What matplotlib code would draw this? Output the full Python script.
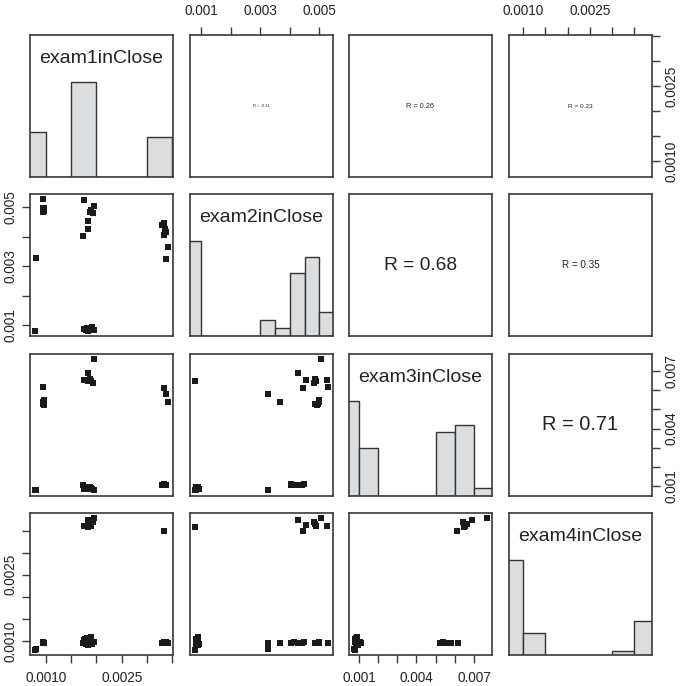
import numpy as np
import matplotlib
matplotlib.use("Agg")
import matplotlib.pyplot as plt

plt.rcParams['font.family'] = ['Liberation Sans', 'DejaVu Sans']

names = ["exam1inClose", "exam2inClose", "exam3inClose", "exam4inClose"]

exam1 = [0.00080, 0.00079, 0.00095, 0.00096, 0.00095, 0.00096, 0.00094, 0.00095, 0.00096,
         0.00333, 0.00337, 0.00341, 0.00333, 0.00330, 0.00335, 0.00338, 0.00334,
         0.00195, 0.00184, 0.00183, 0.00190, 0.00176, 0.00188, 0.00184, 0.00193,
         0.00173, 0.00178, 0.00182, 0.00186, 0.00190, 0.00175, 0.00180, 0.00184, 0.00188, 0.00192, 0.00196]
exam2 = [0.00327, 0.00080, 0.00528, 0.00497, 0.00486, 0.00492, 0.00499, 0.00495, 0.00489,
         0.00446, 0.00326, 0.00365, 0.00448, 0.00440, 0.00428, 0.00415, 0.00405,
         0.00506, 0.00427, 0.00455, 0.00490, 0.00525, 0.00485, 0.00080, 0.00480,
         0.00403, 0.00085, 0.00088, 0.00083, 0.00090, 0.00086, 0.00082, 0.00089, 0.00084, 0.00092, 0.00081]
exam3 = [0.00076, 0.00078, 0.00617, 0.00552, 0.00530, 0.00522, 0.00538, 0.00528, 0.00526,
         0.00611, 0.00580, 0.00540, 0.00108, 0.00104, 0.00106, 0.00103, 0.00110,
         0.00766, 0.00690, 0.00652, 0.00650, 0.00655, 0.00662, 0.00650, 0.00640,
         0.00105, 0.00080, 0.00085, 0.00090, 0.00088, 0.00082, 0.00087, 0.00095, 0.00092, 0.00083, 0.00078]
exam4 = [0.00081, 0.00080, 0.00096, 0.00096, 0.00095, 0.00096, 0.00097, 0.00096, 0.00095,
         0.00349, 0.00096, 0.00095, 0.00097, 0.00096, 0.00095, 0.00097, 0.00096,
         0.00378, 0.00374, 0.00362, 0.00360, 0.00361, 0.00366, 0.00359, 0.00370,
         0.00095, 0.00105, 0.00107, 0.00104, 0.00110, 0.00103, 0.00093, 0.00090, 0.00095, 0.00092, 0.00098]

data = [np.array(exam1), np.array(exam2), np.array(exam3), np.array(exam4)]

# correlation labels shown in upper panels
cor_labels = {(0, 1): "R = -0.11", (0, 2): "R = 0.26", (0, 3): "R = 0.23",
              (1, 2): "R = 0.68", (1, 3): "R = 0.35", (2, 3): "R = 0.71"}
cor_values = {(0, 1): 0.11, (0, 2): 0.26, (0, 3): 0.23,
              (1, 2): 0.68, (1, 3): 0.35, (2, 3): 0.71}

# histogram bin widths
bin_width = [0.0005, 0.0005, 0.001, 0.0005]

ticks = [[0.0010, 0.0015, 0.0020, 0.0025, 0.0030, 0.0035],
         [0.001, 0.002, 0.003, 0.004, 0.005],
         [0.001, 0.002, 0.003, 0.004, 0.005, 0.006, 0.007],
         [0.0010, 0.0015, 0.0020, 0.0025, 0.0030, 0.0035]]
tick_labels = [["0.0010", "", "", "0.0025", "", ""],
               ["0.001", "", "0.003", "", "0.005"],
               ["0.001", "", "", "0.004", "", "", "0.007"],
               ["0.0010", "", "", "0.0025", "", ""]]

W, H = 685, 686
fig = plt.figure(figsize=(W / 100, H / 100), dpi=100)

col_left = [30, 190, 349, 509]
row_top = [35, 194, 353.5, 513]
pw, ph = 143, 142

frame_col = "#3a3a3a"
text_col = "#222222"

lims = []
for v in data:
    r = v.max() - v.min()
    lims.append((v.min() - 0.04 * r, v.max() + 0.04 * r))

for i in range(4):
    for j in range(4):
        ax = fig.add_axes([col_left[j] / W, 1 - (row_top[i] + ph) / H, pw / W, ph / H])
        for s in ax.spines.values():
            s.set_color(frame_col)
            s.set_linewidth(1.2)
        ax.set_xlim(lims[j])
        ax.tick_params(length=5.8, width=1.0, color=frame_col, labelsize=9.8,
                       labelcolor=text_col, direction='out')
        ax.set_xticks([])
        ax.set_yticks([])
        if i == j:
            v = data[i]
            lo = np.floor(v.min() / bin_width[i]) * bin_width[i]
            hi = np.ceil(v.max() / bin_width[i]) * bin_width[i]
            edges = np.arange(lo, hi + bin_width[i] / 2, bin_width[i])
            counts, _ = np.histogram(v, bins=edges)
            hts = counts / counts.max()
            ax.bar(edges[:-1], hts, width=np.diff(edges), align='edge',
                   color="#dcdddf", edgecolor="#333333", linewidth=1.0)
            ax.set_ylim(0, 1.5)
            ax.text(0.5, 0.833, names[i], transform=ax.transAxes, ha='center',
                    va='center', fontsize=14, color=text_col)
        elif i > j:
            ax.plot(data[j], data[i], 's', color="#1a1a1a", markersize=4.1,
                    markeredgewidth=0)
            ax.set_ylim(lims[i])
        else:
            ax.set_ylim(lims[i])
            ax.text(0.5, 0.5, cor_labels[(i, j)], transform=ax.transAxes,
                    ha='center', va='center', color=text_col,
                    fontsize=max(20.3 * cor_values[(i, j)], 3.0))
        # outer axes, alternating like R pairs()
        if i == 0 and j % 2 == 1:
            ax.xaxis.set_ticks_position('top')
            ax.set_xticks(ticks[j])
            ax.set_xticklabels(tick_labels[j])
            ax.tick_params(axis='x', pad=6.5)
        if i == 3 and j % 2 == 0:
            ax.set_xticks(ticks[j])
            ax.set_xticklabels(tick_labels[j])
            ax.tick_params(axis='x', pad=5.5)
        if j == 0 and i % 2 == 1:
            ax.set_yticks(ticks[i])
            ax.set_yticklabels(tick_labels[i], rotation=90, va='center')
            ax.tick_params(axis='y', pad=3.5)
        if j == 3 and i % 2 == 0:
            ax.yaxis.set_ticks_position('right')
            ax.set_yticks(ticks[i])
            ax.set_yticklabels(tick_labels[i], rotation=90, va='center')
            ax.tick_params(axis='y', pad=3.5)

fig.savefig("out.png", dpi=100, facecolor='white')
